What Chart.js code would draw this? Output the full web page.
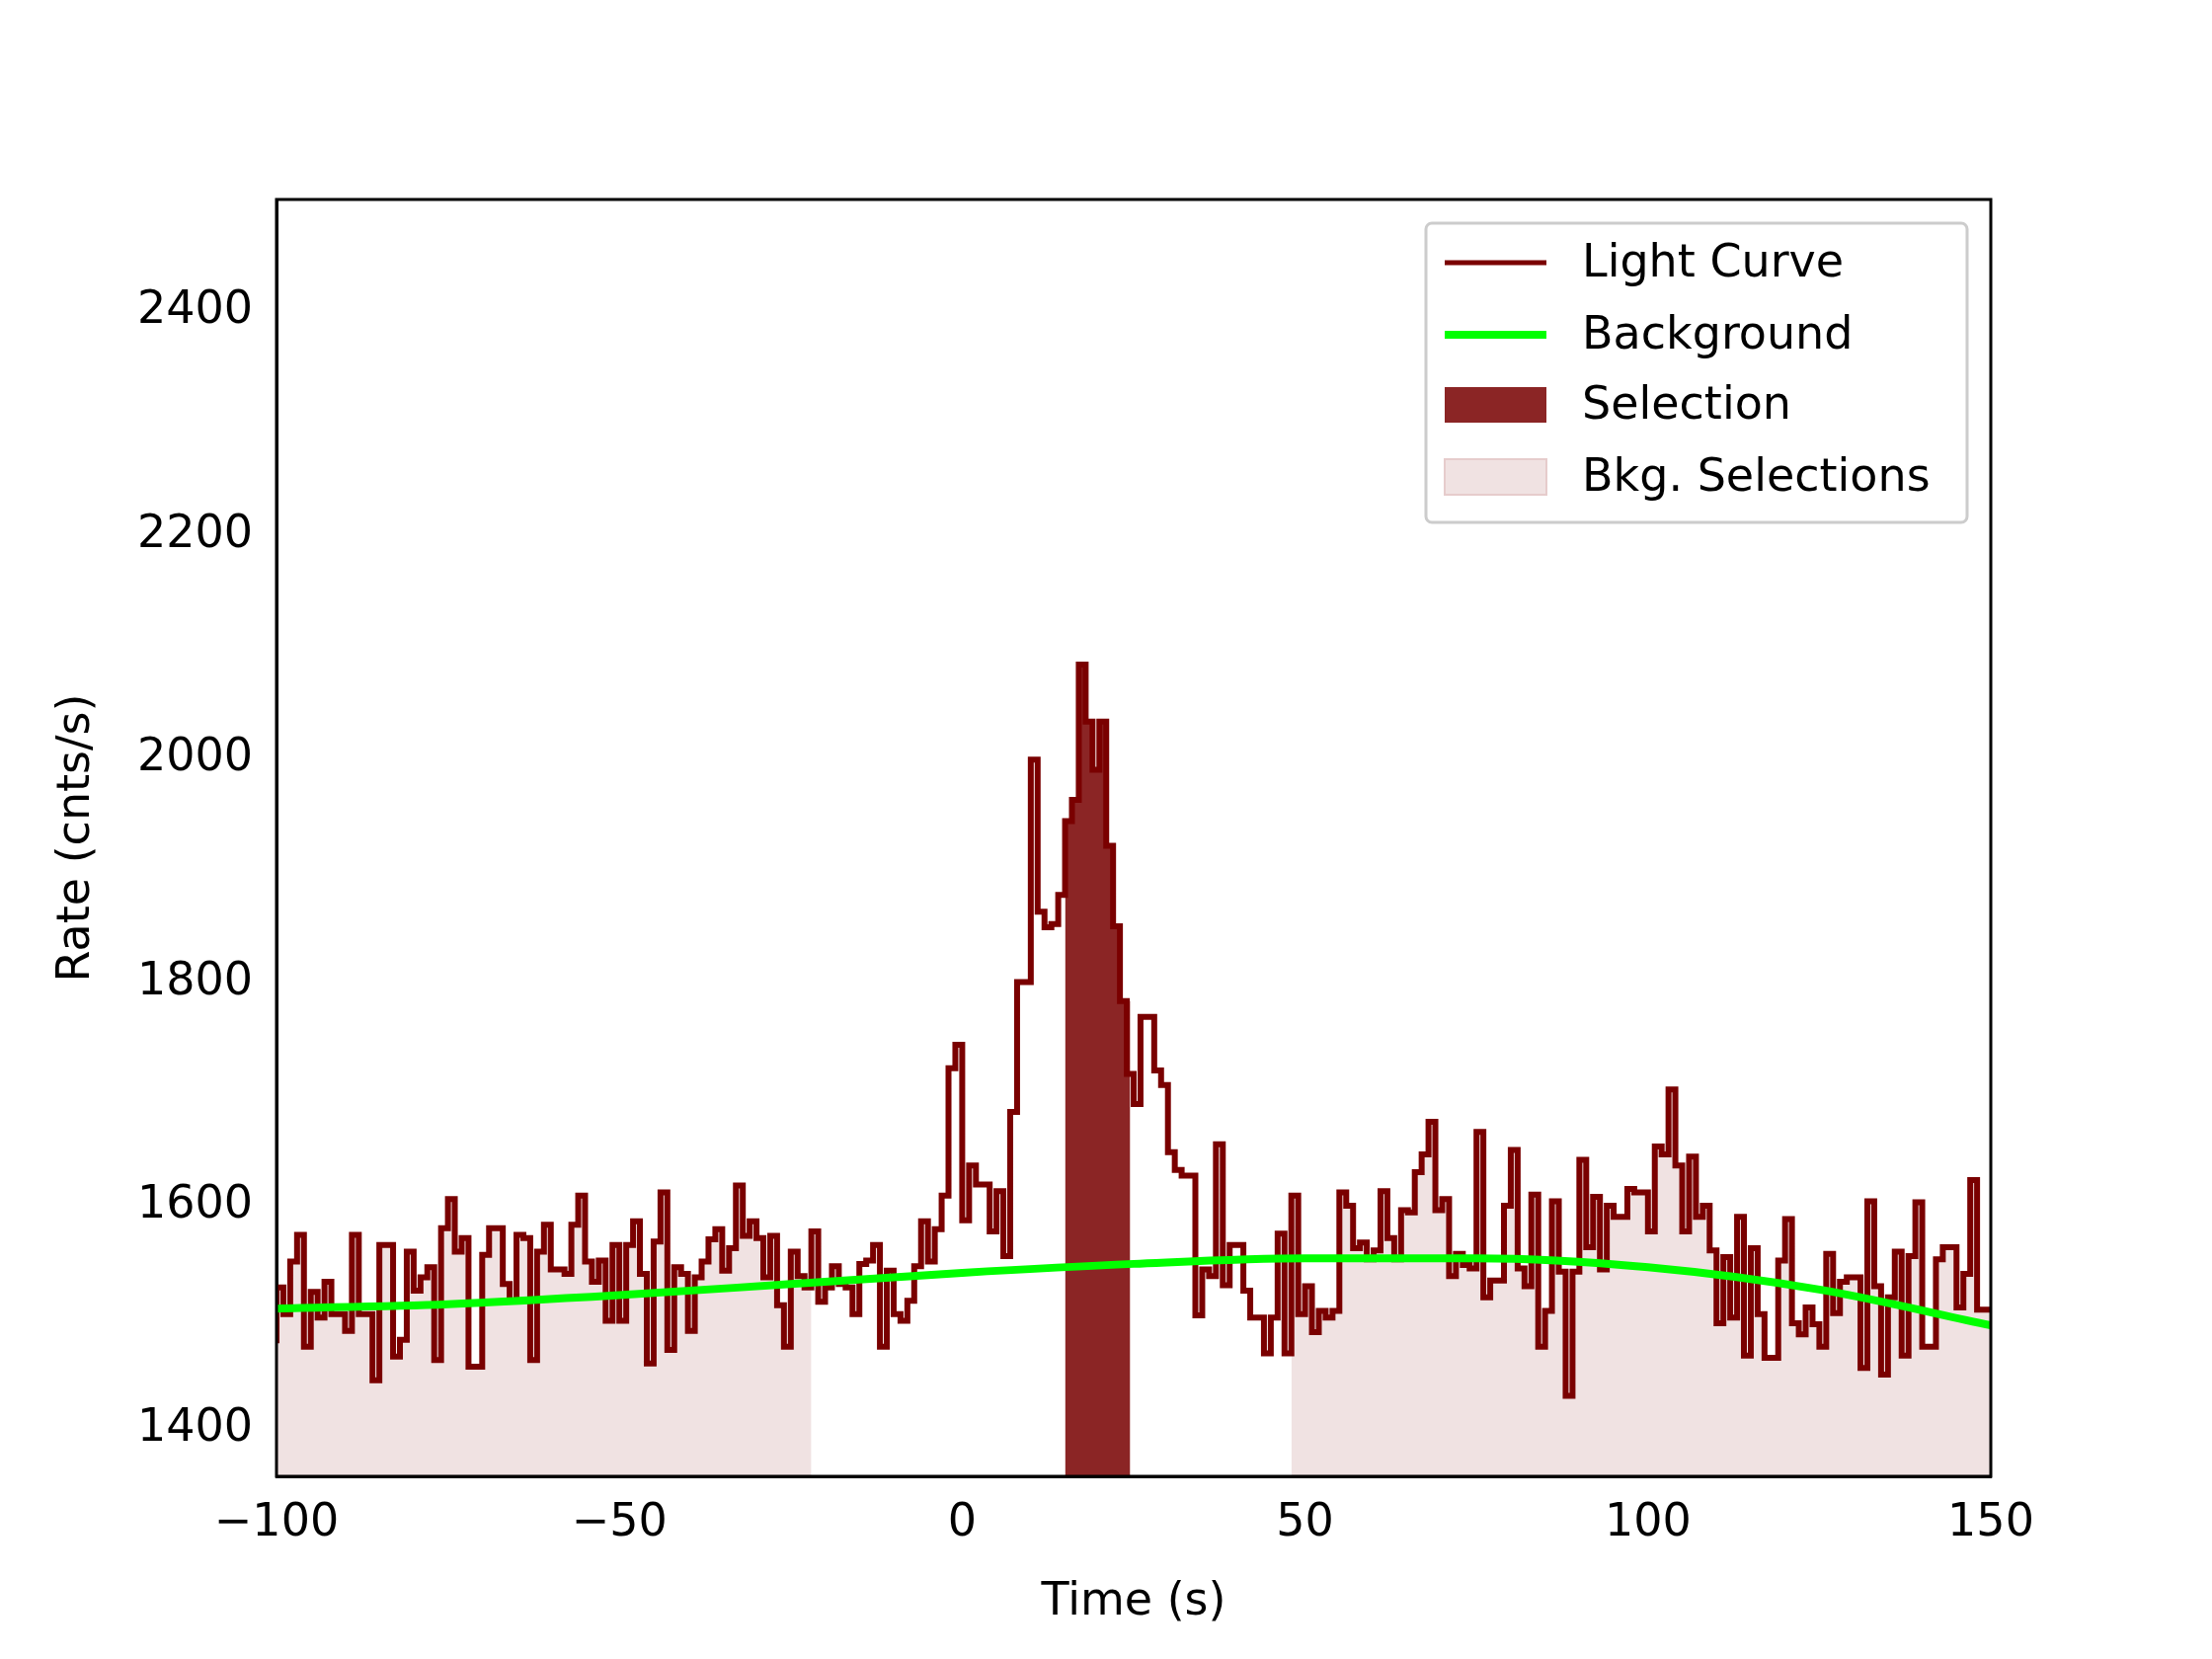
<!DOCTYPE html>
<html><head><meta charset="utf-8">
<script src="https://cdn.jsdelivr.net/npm/chart.js@4/dist/chart.umd.min.js"></script>
<style>html,body{margin:0;padding:0;background:#fff}#c{display:block}</style>
</head><body>
<canvas id="c" width="2240" height="1680"></canvas>
<script>
const tStart = -100, tEnd = 150;
const rates = [
1477,1527,1503,1550,1574,1474,1523,1500,1532,1503,1503,1488,1574,1503,1503,1444,1565,1565,1465,1480,1559,1524,1536,1545,1462,1580,1606,1559,1571,1456,1456,1556,1580,1580,1530,1515,1574,1571,1462,1559,1583,1543,1543,1539,1583,1609,1550,1532,1551,1497,1565,
1497,1565,1586,1539,1459,1568,1612,1471,1545,1539,1488,1536,1550,1570,1579,1542,1562,1618,1573,1586,1571,1536,1573,1511,1474,1559,1537,1527,1577,1514,1527,1546,1530,1527,1503,1548,1551,1565,1474,1542,1503,1497,1515,1546,1586,1550,1579,1609,
1723,1744,1587,1636,1619,1619,1577,1613,1555,1684,1800,1800,1999,1863,1849,1852,1878,1944,1963,2084,2033,1990,2033,1922,1850,1783,1718,1691,1769,1769,1721,1708,1648,1632,1627,1627,1502,1543,1537,1655,1529,1565,1565,1524,1500,1500,1468,1500,
1575,1468,1609,1503,1528,1487,1506,1500,1506,1612,1600,1562,1567,1552,1560,1613,1571,1552,1596,1594,1630,1646,1675,1596,1606,1537,1557,1547,1544,1666,1518,1533,1533,1600,1650,1544,1528,1610,1474,1506,1604,1541,1430,1541,1641,1563,1608,1543,1600,1590,1590,1615,
1612,1612,1577,1653,1646,1704,1636,1577,1644,1590,1600,1560,1495,1554,1500,1590,1466,1562,1503,1464,1464,1551,1588,1495,1485,1509,1494,1474,1557,1504,1532,1536,1536,1455,1604,1528,1449,1518,1559,1466,1555,1603,1474,1474,1552,1563,1563,1509,1539,1623,1507
];
const bgTimes = [-100,-75,-50,-25,0,25,50,75,100,125,150];
const bgRates = [1508,1512,1520,1530,1540,1548,1553,1553,1545,1525,1493];
const selRange = [15,24.5];
const bkgRanges = [[-100,-22],[48,150]];
const xTicks = [-100,-50,0,50,100,150];
const yTicks = [1400,1600,1800,2000,2200,2400];

const bw = (tEnd - tStart) / rates.length;
const curve = rates.map((v,i)=>({x:tStart+i*bw,y:v}));
curve.push({x:tEnd,y:rates[rates.length-1]});
function valueAt(t){let i=Math.min(rates.length-1,Math.max(0,Math.floor((t-tStart)/bw)));return rates[i];}
function rangePts(a,b){
  const pts=[{x:a,y:valueAt(a)}];
  curve.forEach(p=>{if(p.x>a&&p.x<b)pts.push(p);});
  pts.push({x:b,y:valueAt(b-1e-6)});
  return pts;
}
const bkgPts=[];
bkgRanges.forEach((r,k)=>{ if(k>0) bkgPts.push({x:(bkgRanges[k-1][1]+r[0])/2,y:null}); bkgPts.push(...rangePts(r[0],r[1])); });

const MAROON='#7a0000', GREEN='#00ff00', SEL='#8b2525', BKG='rgba(240,226,226,1)';
const font={family:'DejaVu Sans',size:46};

const legendPlugin={id:'lg',afterDraw(ch){
  const c=ch.ctx; c.save();
  const x0=1444,y0=226,w=548,h=303;
  c.fillStyle='rgba(255,255,255,0.8)'; c.strokeStyle='#cccccc'; c.lineWidth=3;
  c.beginPath(); c.roundRect(x0,y0,w,h,6); c.fill(); c.stroke();
  const rows=[266,339,410,483];
  c.font='46px DejaVu Sans'; c.textBaseline='middle'; c.fillStyle='#000';
  c.lineWidth=5; c.strokeStyle=MAROON; c.beginPath(); c.moveTo(1463,rows[0]); c.lineTo(1566,rows[0]); c.stroke();
  c.lineWidth=8; c.strokeStyle=GREEN; c.beginPath(); c.moveTo(1463,rows[1]); c.lineTo(1566,rows[1]); c.stroke();
  c.fillStyle=SEL; c.fillRect(1463,rows[2]-18,103,36);
  c.fillStyle=BKG; c.fillRect(1463,rows[3]-18,103,36); c.strokeStyle='#e6cccc'; c.lineWidth=2; c.strokeRect(1463,rows[3]-18,103,36);
  c.fillStyle='#000';
  ['Light Curve','Background','Selection','Bkg. Selections'].forEach((t,i)=>c.fillText(t,1602,rows[i]+2));
  c.restore();
}};

new Chart(document.getElementById('c'),{
  type:'line',
  data:{datasets:[
    {data:bkgPts,stepped:'after',borderWidth:0,pointRadius:0,backgroundColor:BKG,fill:'start',spanGaps:false,order:5},
    {data:rangePts(selRange[0],selRange[1]),stepped:'after',borderWidth:0,pointRadius:0,backgroundColor:SEL,fill:'start',order:4},
    {data:curve,stepped:'after',borderColor:MAROON,borderWidth:6,pointRadius:0,fill:false,order:2},
    {data:bgTimes.map((t,i)=>({x:t,y:bgRates[i]})),borderColor:GREEN,borderWidth:8,pointRadius:0,cubicInterpolationMode:'monotone',fill:false,order:1}
  ]},
  options:{responsive:false,animation:false,devicePixelRatio:1,
    layout:{padding:{top:202,right:224,left:0,bottom:25}},
    plugins:{legend:{display:false},tooltip:{enabled:false}},
    scales:{
      x:{type:'linear',min:tStart,max:tEnd,
        afterFit(s){s.height=160;},
        afterBuildTicks(s){s.ticks=xTicks.map(v=>({value:v}));},
        grid:{display:false,drawTicks:true,tickLength:10,tickColor:'#000'},
        border:{color:'#000',width:3},
        ticks:{color:'#000',font:font,padding:10,maxRotation:0,callback:v=>String(v).replace('-','\u2212')},
        title:{display:true,text:'Time (s)',color:'#000',font:font,padding:{top:0}}},
      y:{min:1358,max:2500,
        afterFit(s){s.width=280;},
        afterBuildTicks(s){s.ticks=yTicks.map(v=>({value:v}));},
        grid:{display:false,tickLength:10,tickColor:'#000'},
        border:{color:'#000',width:3},
        ticks:{color:'#000',font:font,padding:14,callback:v=>String(v)},
        title:{display:true,text:'Rate (cnts/s)',color:'#000',font:font,padding:{top:50,bottom:0}}}
    }
  },
  plugins:[legendPlugin,{id:'frame',afterDraw(ch){const a=ch.chartArea,c=ch.ctx;c.save();c.strokeStyle='#000';c.lineWidth=3;c.strokeRect(a.left,a.top,a.right-a.left,a.bottom-a.top);c.restore();}}]
});
</script>
</body></html>
